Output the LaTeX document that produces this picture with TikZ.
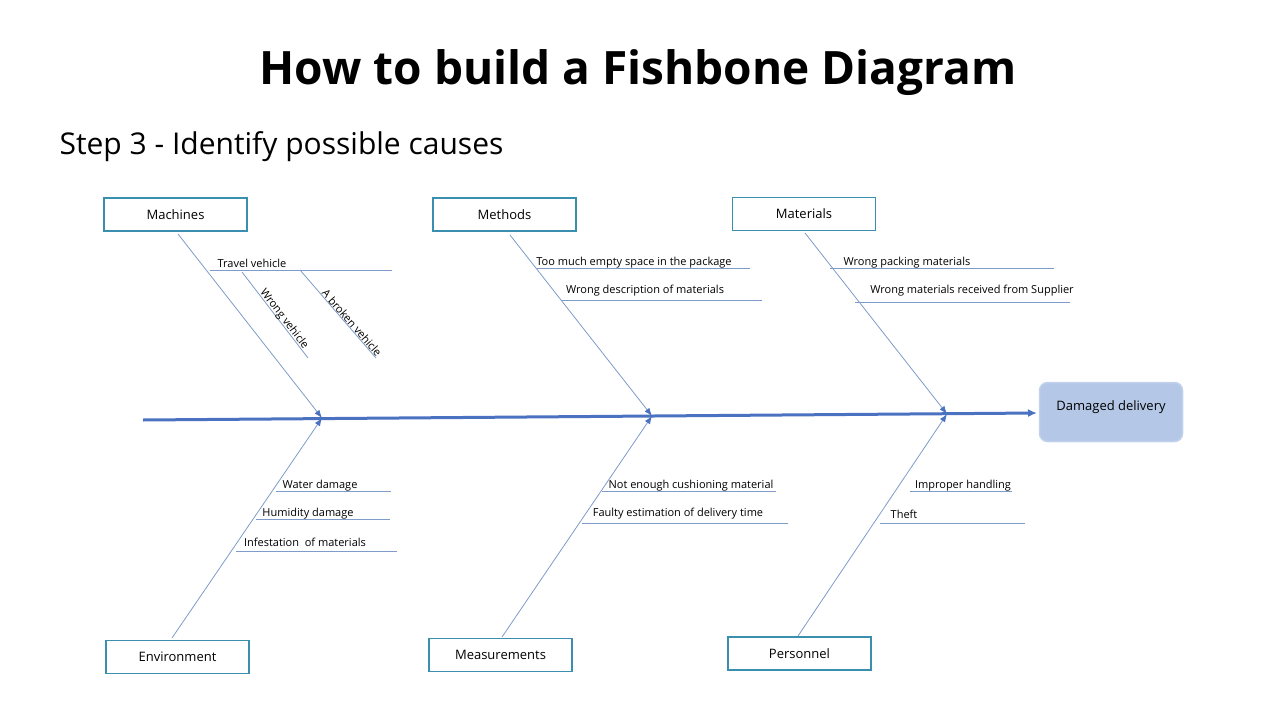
\documentclass[tikz,border=0pt]{standalone}
\usepackage{fontspec}
\setmainfont{Open Sans}
\usetikzlibrary{arrows.meta}
\definecolor{boxc}{HTML}{3A8FAF}
\definecolor{bonec}{HTML}{7E9BC9}
\definecolor{spinec}{HTML}{4A72C0}
\definecolor{headf}{HTML}{B4C7E7}
\begin{document}
\begin{tikzpicture}[x=1pt,y=-1pt,
  cat/.style={draw=boxc,line width=1.2pt,minimum width=143pt,minimum height=33pt,font=\fontsize{13}{15}\selectfont,inner sep=0pt},
  bone/.style={draw=bonec,line width=0.8pt},
  arr/.style={bone,-{Latex[length=8pt,width=6pt,color=spinec]}},
  lab/.style={font=\fontsize{11}{13}\selectfont,inner sep=1pt}]
\useasboundingbox (0,0) rectangle (1280,720);
\node at (638,73) {\fontsize{46}{54}\selectfont\bfseries How to build a Fishbone Diagram};
\node[anchor=west] at (56,147) {\fontsize{30}{36}\selectfont Step 3 - Identify possible causes};
% boxes
\node[cat] (mach) at (175.5,214.5) {Machines};
\node[cat] (meth) at (504.5,214.5) {Methods};
\node[cat] (mat) at (804,214) {Materials};
\node[cat] (env) at (177.5,657) {Environment};
\node[cat] (meas) at (500.5,655) {Measurements};
\node[cat] (pers) at (799.5,653.5) {Personnel};
\node[draw=headf!80!white,fill=headf,rounded corners=8pt,line width=1.5pt,minimum width=143pt,minimum height=59pt,text depth=12pt,font=\fontsize{13}{15}\selectfont] (head) at (1111,412) {Damaged delivery};
% spine
\coordinate (s0) at (143,420);
\coordinate (j1) at (322,418);
\coordinate (j2) at (652,416);
\coordinate (j3) at (947,414);
\draw[spinec,line width=3pt,-{Latex[length=9pt,width=8pt]}] (s0) -- (1037,413);
% bones
\coordinate (m0) at (178,234); \draw[arr] (m0) -- (j1);
\coordinate (t0) at (510,235); \draw[arr] (t0) -- (j2);
\coordinate (a0) at (805,233); \draw[arr] (a0) -- (j3);
\coordinate (e0) at (172,638); \draw[arr] (e0) -- (j1);
\coordinate (q0) at (502,637); \draw[arr] (q0) -- (j2);
\coordinate (p0) at (798,636); \draw[arr] (p0) -- (j3);
% machines causes
\draw[bone] (210,270) -- (392,270);
\node[lab] at (252,263) {Travel vehicle};
\draw[bone] (242,272) -- (308,358);
\draw[bone] (300,270) -- (376,358);
\node[lab,rotate=-52.5] at (284,319) {Wrong vehicle};
\node[lab,rotate=-49] at (352,323) {A broken vehicle};
% methods
\draw[bone] (537,268) -- (750,268);
\node[lab] at (634,263) {Too much empty space in the package};
\draw[bone] (562,300) -- (762,300);
\node[lab] at (645,291) {Wrong description of materials};
% materials
\draw[bone] (830,268) -- (1054,268);
\node[lab] at (907,263) {Wrong packing materials};
\draw[bone] (855,302) -- (1070,302);
\node[lab] at (972,291) {Wrong materials received from Supplier};
% environment
\draw[bone] (276,491) -- (391,491);
\node[lab] at (320,486) {Water damage};
\draw[bone] (256,519) -- (390,519);
\node[lab] at (308,514) {Humidity damage};
\draw[bone] (236,551) -- (397,551);
\node[lab] at (305,542) {Infestation\ \ of materials};
% measurements
\draw[bone] (602,491) -- (776,491);
\node[lab] at (691,486) {Not enough cushioning material};
\draw[bone] (582,523) -- (788,523);
\node[lab] at (678,514) {Faulty estimation of delivery time};
% personnel
\draw[bone] (910,491) -- (1012,491);
\node[lab] at (963,486) {Improper handling};
\draw[bone] (880,523) -- (1025,523);
\node[lab] at (904,514) {Theft};
\end{tikzpicture}
\end{document}
